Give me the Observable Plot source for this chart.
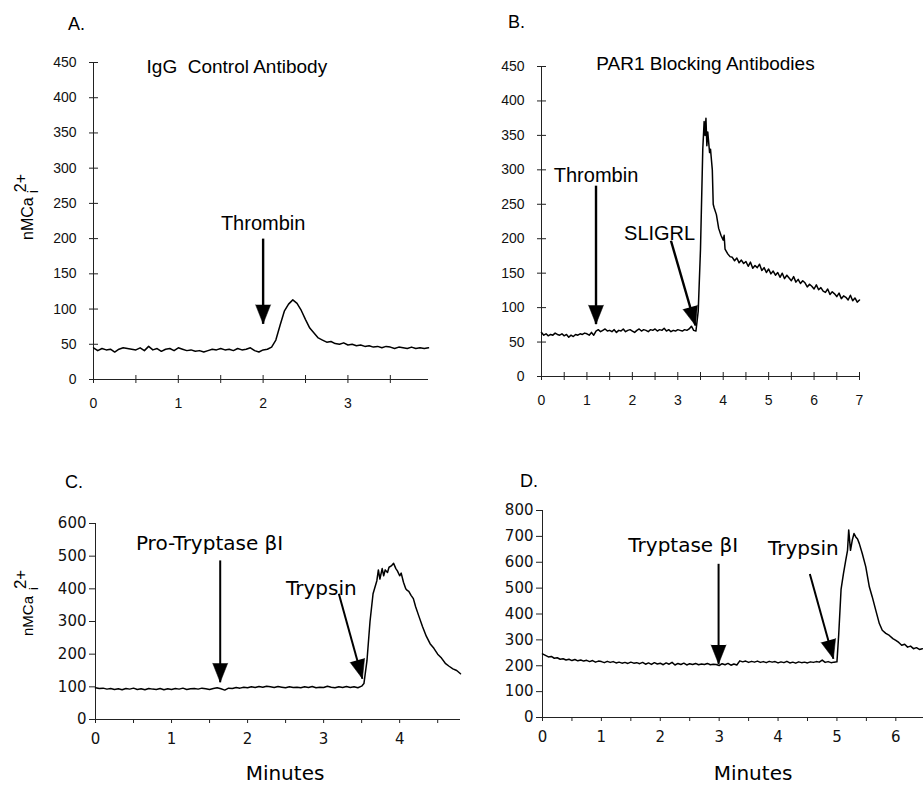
<!DOCTYPE html>
<html><head><meta charset="utf-8">
<script src="https://cdn.jsdelivr.net/npm/d3@7"></script>
<script src="https://cdn.jsdelivr.net/npm/@observablehq/plot@0.6"></script>
<style>
body{margin:0;background:#fff;}
#fig{position:relative;width:923px;height:786px;overflow:hidden;background:#fff;}
#overlay{position:absolute;left:0;top:0;pointer-events:none;}
</style></head><body><div id="fig"></div>
<script>
// ---------- Panel A: IgG Control Antibody ----------
const aTime = [0,0.05,0.1,0.15,0.2,0.25,0.3,0.35,0.4,0.45,0.5,0.55,0.6,0.65,0.7,0.75,0.8,0.85,0.9,0.95,
1,1.05,1.1,1.15,1.2,1.25,1.3,1.35,1.4,1.45,1.5,1.55,1.6,1.65,1.7,1.75,1.8,1.85,1.9,1.95,
2,2.05,2.1,2.15,2.2,2.25,2.3,2.35,2.4,2.45,2.5,2.55,2.6,2.65,2.7,2.75,2.8,2.85,2.9,2.95,
3,3.05,3.1,3.15,3.2,3.25,3.3,3.35,3.4,3.45,3.5,3.55,3.6,3.65,3.7,3.75,3.8,3.85,3.9,3.95];
const aValue = [45,41,44,42,43,39,43,45,44,43,42,45,41,47,42,44,40,43,44,41,
45,43,41,42,40,41,39,41,43,42,44,42,43,41,44,42,43,45,41,39,
42,43,46,56,77,97,107,113,108,98,85,73,66,59,56,53,54,51,50,52,
49,50,48,49,47,48,46,47,45,47,46,44,46,45,44,46,44,45,44,45];
const aNotes = [{text:"Thrombin", lx:2.0, ly:221, x1:2.0, y1:200, x2:2.0, y2:79}];
const aTitle = [{text:"IgG  Control Antibody", x:1.69, y:444}];

// ---------- Panel B: PAR1 Blocking Antibodies ----------
const bTime = [0,0.05,0.1,0.15,0.2,0.25,0.3,0.35,0.4,0.45,0.5,0.55,0.6,0.65,0.7,0.75,0.8,0.85,0.9,0.95,
1,1.05,1.1,1.15,1.2,1.25,1.3,1.35,1.4,1.45,1.5,1.55,1.6,1.65,1.7,1.75,1.8,1.85,1.9,1.95,
2,2.05,2.1,2.15,2.2,2.25,2.3,2.35,2.4,2.45,2.5,2.55,2.6,2.65,2.7,2.75,2.8,2.85,2.9,2.95,
3,3.05,3.1,3.15,3.2,3.25,3.3,3.35,3.4,
3.45,3.5,3.55,3.58,3.6,3.62,3.64,3.66,3.68,3.7,3.72,3.74,3.76,3.78,3.8,3.85,3.9,3.95,4,4.02,4.04,
4.1,4.15,4.2,4.25,4.3,4.35,4.4,4.45,4.5,4.55,4.6,4.65,4.7,4.75,4.8,4.85,4.9,4.95,5,5.05,
5.1,5.15,5.2,5.25,5.3,5.35,5.4,5.45,5.5,5.55,5.6,5.65,5.7,5.75,5.8,5.85,5.9,5.95,6,6.05,
6.1,6.15,6.2,6.25,6.3,6.35,6.4,6.45,6.5,6.55,6.6,6.65,6.7,6.75,6.8,6.85,6.9,6.95,7];
const bValue = [64,60,62,59,61,60,63,61,60,62,59,61,57,60,58,61,60,62,61,63,
62,60,64,60,66,68,65,67,69,66,67,65,68,64,67,66,69,65,67,68,
66,64,67,69,66,68,67,65,68,67,69,66,68,67,70,66,68,65,67,66,
68,67,66,68,67,69,73,67,66,
95,185,330,370,350,375,335,355,340,325,330,315,300,250,245,235,215,205,198,205,185,
178,174,173,168,172,165,169,164,167,160,166,157,161,158,163,154,158,151,156,149,
153,147,151,144,150,142,147,143,139,145,137,141,135,139,136,130,134,131,127,133,
126,129,124,122,127,119,123,120,116,121,113,117,115,111,118,110,114,108,111];
const bNotes = [
  {text:"Thrombin", lx:1.2, ly:292, x1:1.2, y1:277, x2:1.2, y2:76},
  {text:"SLIGRL", lx:2.6, ly:207, x1:2.85, y1:197, x2:3.39, y2:74}
];
const bTitle = [{text:"PAR1 Blocking Antibodies", x:3.61, y:454}];

// ---------- Panel C: Pro-Tryptase βI ----------
const cTime = [0,0.05,0.1,0.15,0.2,0.25,0.3,0.35,0.4,0.45,0.5,0.55,0.6,0.65,0.7,0.75,0.8,0.85,0.9,0.95,
1,1.05,1.1,1.15,1.2,1.25,1.3,1.35,1.4,1.45,1.5,1.55,1.6,1.65,1.7,1.75,1.8,1.85,1.9,1.95,
2,2.05,2.1,2.15,2.2,2.25,2.3,2.35,2.4,2.45,2.5,2.55,2.6,2.65,2.7,2.75,2.8,2.85,2.9,2.95,
3,3.05,3.1,3.15,3.2,3.25,3.3,3.35,3.4,3.45,3.5,
3.53,3.57,3.61,3.65,3.7,3.72,3.74,3.77,3.79,3.81,3.84,3.86,3.89,3.92,3.95,3.97,4,4.02,4.05,4.08,
4.1,4.12,4.15,4.18,4.21,4.25,4.3,4.35,4.4,4.45,4.5,4.55,4.6,4.65,4.7,4.75,4.8];
const cValue = [97,95,96,93,95,92,94,91,95,93,96,92,94,91,95,93,92,95,91,94,
92,95,93,96,92,94,95,93,96,94,92,95,97,94,90,96,95,98,96,99,
97,100,98,101,99,102,100,98,101,99,97,100,98,99,97,100,98,101,97,99,
98,102,99,97,100,98,101,98,100,97,102,
110,180,300,385,425,458,430,462,440,458,450,466,470,478,462,455,440,448,420,400,
395,392,380,370,345,318,285,255,232,218,200,188,172,163,155,150,140];
const cNotes = [
  {text:"Pro-Tryptase βI", lx:1.50, ly:540, x1:1.64, y1:487, x2:1.64, y2:114},
  {text:"Trypsin", lx:2.97, ly:402, x1:3.20, y1:385, x2:3.51, y2:125}
];

// ---------- Panel D: Tryptase βI ----------
const dTime = [0,0.05,0.1,0.15,0.2,0.25,0.3,0.35,0.4,0.45,0.5,0.55,0.6,0.65,0.7,0.75,0.8,0.85,0.9,0.95,
1,1.05,1.1,1.15,1.2,1.25,1.3,1.35,1.4,1.45,1.5,1.55,1.6,1.65,1.7,1.75,1.8,1.85,1.9,1.95,
2,2.05,2.1,2.15,2.2,2.25,2.3,2.35,2.4,2.45,2.5,2.55,2.6,2.65,2.7,2.75,2.8,2.85,2.9,2.95,
3,3.05,3.1,3.15,3.2,3.25,3.3,3.35,3.4,3.45,3.5,3.55,3.6,3.65,3.7,3.75,3.8,3.85,3.9,3.95,
4,4.05,4.1,4.15,4.2,4.25,4.3,4.35,4.4,4.45,4.5,4.55,4.6,4.65,4.7,4.75,4.8,4.85,4.9,4.95,5,
5.03,5.07,5.11,5.15,5.18,5.2,5.23,5.26,5.29,5.32,5.35,5.38,5.43,5.49,5.55,5.6,5.66,5.72,5.77,5.83,
5.89,5.95,6,6.05,6.1,6.15,6.2,6.25,6.3,6.35,6.4,6.45];
const dValue = [246,240,234,236,229,231,225,227,222,225,220,224,219,222,218,221,216,220,214,218,
216,212,217,213,216,211,214,210,213,209,214,210,212,208,213,206,211,205,212,207,
210,204,211,206,213,203,209,205,210,203,208,205,209,204,207,205,209,204,206,205,
201,208,204,209,202,207,203,219,215,218,213,217,214,218,213,216,212,217,214,216,
211,215,212,217,211,214,210,215,212,214,211,215,213,216,214,222,213,216,212,214,215,
320,495,555,608,646,725,646,685,711,698,690,672,634,582,505,466,414,363,337,325,
317,305,298,290,279,283,272,276,266,270,263,266];
const dNotes = [
  {text:"Tryptase βI", lx:2.39, ly:665, x1:2.99, y1:594, x2:2.99, y2:207},
  {text:"Trypsin", lx:4.43, ly:651, x1:4.54, y1:555, x2:4.94, y2:227}
];

// tick values
const yTicksAB = [0,50,100,150,200,250,300,350,400,450];
const yTicksC = [0,100,200,300,400,500,600];
const yTicksD = [0,100,200,300,400,500,600,700,800];
const xMinorA = [0,0.5,1,1.5,2,2.5,3,3.5];
const xLabelA = [0,1,2,3];
const xMinorB = [0,0.5,1,1.5,2,2.5,3,3.5,4,4.5,5,5.5,6,6.5,7];
const xLabelB = [0,1,2,3,4,5,6,7];
const xMinorC = [0,0.5,1,1.5,2,2.5,3,3.5,4,4.5];
const xLabelC = [0,1,2,3,4];
const xMinorD = [0,0.5,1,1.5,2,2.5,3,3.5,4,4.5,5,5.5,6];
const xLabelD = [0,1,2,3,4,5,6];

const ARIAL = "'Liberation Sans', Arial, sans-serif";
const VERD = "'DejaVu Sans', Verdana, sans-serif";
const fig = document.getElementById("fig");

function addPanel(c) {
  const sx = Plot.scale({x: {domain: c.xDomain, range: [c.ml, c.w - c.mr]}});
  const sy = Plot.scale({y: {domain: c.yDomain, range: [c.h - c.mb, c.mt]}});
  const series = c.times.map((t, i) => ({t, v: c.values[i]}));
  const heads = c.notes.map(n => ({...n,
    angle: Math.atan2(sx.apply(n.x2) - sx.apply(n.x1), sy.apply(n.y1) - sy.apply(n.y2)) * 180 / Math.PI}));
  const marks = [
    Plot.ruleX([0], {stroke: "#222", strokeWidth: 1}),
    Plot.ruleY([0], {stroke: "#222", strokeWidth: 1}),
    Plot.axisY(c.yTicks, {tickSize: c.yTickSize, dx: c.yTickDx, fill: "none", stroke: "#222", label: null}),
    Plot.axisY(c.yTicks, {tickSize: 0, tickPadding: c.yPad, label: null, fill: "#111", ariaLabel: "ylab"}),
    Plot.axisX(c.xMinor, {tickSize: c.xTickSize, dy: c.xTickDy, fill: "none", stroke: "#222", label: null}),
    Plot.axisX(c.xLabels, {tickSize: 0, tickPadding: c.xPad, label: null, fill: "#111", ariaLabel: "xlab"}),
    Plot.line(series, {x: "t", y: "v", stroke: "#000", strokeWidth: 1.5}),
    Plot.link(c.notes, {x1: "x1", y1: "y1", x2: "x2", y2: "y2", stroke: "#000", strokeWidth: c.shaft}),
    Plot.vector(heads, {x: "x2", y: "y2", rotate: "angle", length: 19, r: 7.5, shape: "spike",
      anchor: "end", fill: "#000", stroke: "#000", strokeWidth: 0.5}),
    Plot.text(c.notes, {x: "lx", y: "ly", text: "text", fontFamily: c.noteFont, fontSize: c.noteSize,
      fill: "#000", lineAnchor: "middle"})
  ];
  if (c.titles) marks.push(Plot.text(c.titles, {x: "x", y: "y", text: "text", fontFamily: ARIAL,
    fontSize: 19, fill: "#000", lineAnchor: "middle"}));
  const svg = Plot.plot({
    width: c.w, height: c.h,
    marginLeft: c.ml, marginRight: c.mr, marginTop: c.mt, marginBottom: c.mb,
    x: {domain: c.xDomain}, y: {domain: c.yDomain},
    style: {background: "transparent", overflow: "visible", color: "#111",
      fontFamily: c.yFont, fontSize: c.yFontSize + "px"},
    marks
  });
  // tick label fonts for the x axis (differs from y axis in panels A and B)
  d3.select(svg).selectAll("g").filter(function () {
    const a = this.getAttribute("aria-label") || "";
    return a === "xlab" || a.startsWith("x-axis tick label");
  }).attr("font-family", VERD).attr("font-size", c.xFontSize)
    .selectAll("text").attr("font-family", VERD).attr("font-size", c.xFontSize);
  svg.style.position = "absolute";
  svg.style.left = c.left + "px";
  svg.style.top = c.top + "px";
  fig.appendChild(svg);
}

const abCommon = {yFont: ARIAL, yFontSize: 14, xFontSize: 13, yTickSize: 9, yTickDx: 5, yPad: 17,
  xTickSize: 8, xTickDy: -4, xPad: 19, noteFont: ARIAL, noteSize: 20, shaft: 2.4};
const cdCommon = {yFont: VERD, yFontSize: 15, xFontSize: 15, yTickSize: 6, yTickDx: 0, yPad: 9,
  xTickSize: 4, xTickDy: 0, xPad: 14, noteFont: VERD, noteSize: 20, shaft: 2};

addPanel({...abCommon, left: 0, top: 0, w: 460, h: 420, ml: 93, mr: 32, mt: 62, mb: 41,
  xDomain: [0, 3.95], yDomain: [0, 450], times: aTime, values: aValue, notes: aNotes, titles: aTitle,
  yTicks: yTicksAB, xMinor: xMinorA, xLabels: xLabelA});
addPanel({...abCommon, left: 460, top: 0, w: 463, h: 420, ml: 81, mr: 64, mt: 66, mb: 44,
  xDomain: [0, 7], yDomain: [0, 450], times: bTime, values: bValue, notes: bNotes, titles: bTitle,
  yTicks: yTicksAB, xMinor: xMinorB, xLabels: xLabelB});
addPanel({...cdCommon, left: 0, top: 400, w: 460, h: 386, ml: 95, mr: 0, mt: 123, mb: 67,
  xDomain: [0, 4.8], yDomain: [0, 600], times: cTime, values: cValue, notes: cNotes,
  yTicks: yTicksC, xMinor: xMinorC, xLabels: xLabelC});
addPanel({...cdCommon, left: 460, top: 400, w: 463, h: 386, ml: 82, mr: 0, mt: 110, mb: 69,
  xDomain: [0, 6.47], yDomain: [0, 800], times: dTime, values: dValue, notes: dNotes,
  yTicks: yTicksD, xMinor: xMinorD, xLabels: xLabelD});

// ---------- overlay texts: panel letters, axis titles ----------
const panelLetters = [{t: "A.", x: 68, y: 30}, {t: "B.", x: 508, y: 28}, {t: "C.", x: 65, y: 488}, {t: "D.", x: 520, y: 487}];
const yTitles = [{x: 33, y: 240, size: 16, supSize: 16, gap: 4}, {x: 33, y: 636, size: 15, supSize: 17, gap: 6}];
const xTitles = [{t: "Minutes", x: 285, y: 780}, {t: "Minutes", x: 753, y: 780}];

const ov = d3.select(fig).append("svg").attr("id", "overlay").attr("width", 923).attr("height", 786);
ov.selectAll("text.pl").data(panelLetters).join("text").attr("class", "pl")
  .attr("x", d => d.x).attr("y", d => d.y).attr("font-family", ARIAL).attr("font-size", 18)
  .attr("fill", "#000").text(d => d.t);
ov.selectAll("text.xt").data(xTitles).join("text").attr("class", "xt")
  .attr("x", d => d.x).attr("y", d => d.y).attr("text-anchor", "middle").attr("font-family", VERD)
  .attr("font-size", 20).attr("fill", "#000").text(d => d.t);
yTitles.forEach(d => {
  const t = ov.append("text").attr("transform", `translate(${d.x},${d.y}) rotate(-90)`)
    .attr("font-family", ARIAL).attr("font-size", d.size).attr("fill", "#000");
  t.append("tspan").text("nMCa");
  t.append("tspan").attr("dx", d.gap).attr("dy", 5).attr("font-size", d.size - 2).text("i");
  t.append("tspan").attr("dx", -2).attr("dy", -12).attr("font-size", d.supSize).text("2+");
});
</script></body></html>
